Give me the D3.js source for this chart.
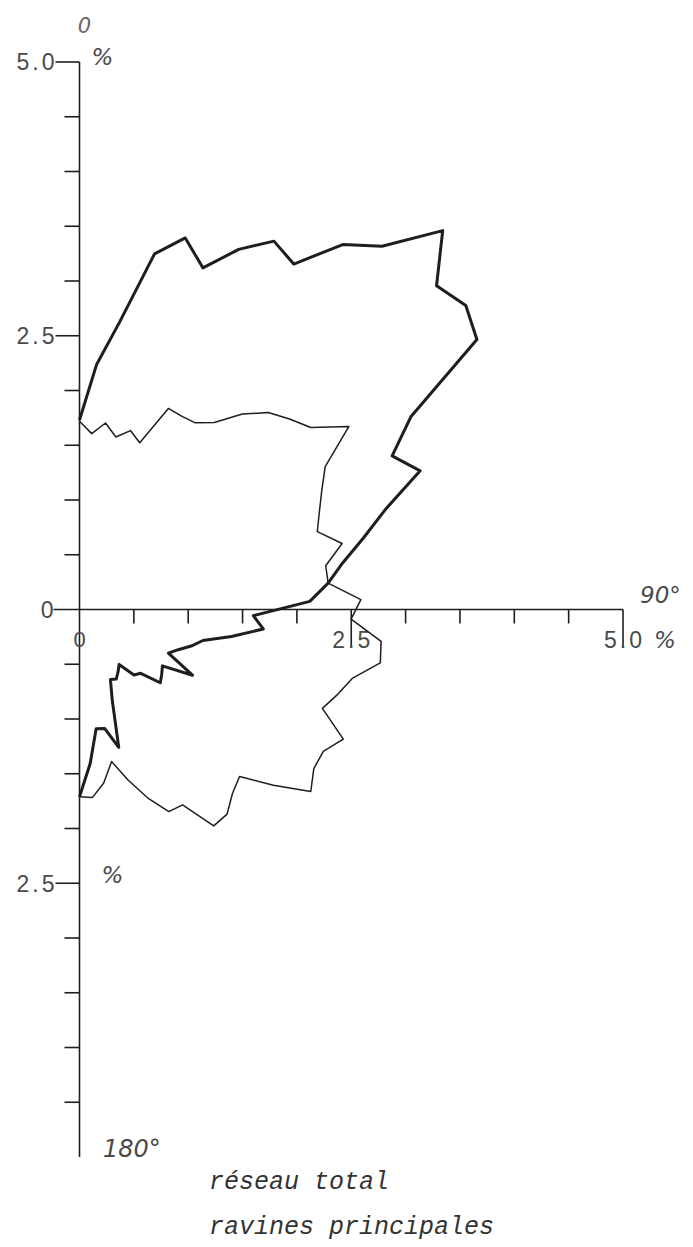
<!DOCTYPE html>
<html>
<head>
<meta charset="utf-8">
<script src="https://cdn.jsdelivr.net/npm/d3@7"></script>
<style>
  html, body { margin: 0; padding: 0; background: #fff; }
  svg { display: block; }
</style>
</head>
<body>
<div id="main_output"></div>
<script>
// direction classes (degrees from north) and frequencies (%)
var angles = [0, 4, 8, 12, 16, 20, 24, 28, 32, 36, 40, 44, 48, 52, 56, 60, 64, 68, 72, 76, 80, 84, 88,
              92, 96, 100, 104, 108, 112, 116, 120, 124, 128, 132, 136, 140, 144, 148, 152, 156, 160,
              164, 168, 172, 176, 180];

// réseau total (thick line)
var reseauTotal = [1.73, 2.24, 2.65, 3.32, 3.53, 3.32, 3.60, 3.81, 3.72, 4.12, 4.33, 4.81, 4.42, 4.51,
                   4.41, 3.52, 3.20, 3.38, 2.96, 2.69, 2.46, 2.30, 2.12, 1.60, 1.70, 1.42, 1.17, 1.08,
                   0.98, 0.91, 1.20, 0.92, 0.96, 1.00, 0.81, 0.78, 0.62, 0.67, 0.72, 0.70, 0.88, 1.31,
                   1.11, 1.10, 1.41, 1.71];

// ravines principales (thin line)
var ravinesPrincipales = [1.72, 1.61, 1.72, 1.61, 1.70, 1.62, 2.01, 2.00, 2.01, 2.11, 2.33, 2.50, 2.60,
                          2.70, 2.99, 2.61, 2.48, 2.38, 2.30, 2.49, 2.30, 2.30, 2.59, 2.50, 2.79, 2.81,
                          2.59, 2.50, 2.41, 2.70, 2.59, 2.60, 2.70, 2.40, 2.12, 2.19, 2.31, 2.33, 2.02,
                          2.02, 1.83, 1.62, 1.42, 1.60, 1.72, 1.71];

// axis ticks
var yTicks = [-4.5, -4, -3.5, -3, -2.5, -2, -1.5, -1, -0.5, 0.5, 1, 1.5, 2, 2.5, 3, 3.5, 4, 4.5, 5];
var yLabelValues = [5, 2.5, 0, -2.5];
var yLabels = ["5.0", "2.5", "0", "2.5"];
var xTicks = [0.5, 1, 1.5, 2, 2.5, 3, 3.5, 4, 4.5, 5];
var xLabelValues = [2.5, 5];
var xLabels = ["2.5", "5.0"];

var width = 693;
var height = 1247;

var xScale = d3.scaleLinear().domain([0, 5]).range([79.5, 623]);
var yScale = d3.scaleLinear().domain([-5, 5]).range([1157, 62]);

var ink = "#1e1e1e";
var textInk = "#4a4a4a";

var svg = d3.select("#main_output")
  .append("svg")
  .attr("width", width)
  .attr("height", height);

// ---------------- axes ----------------

// vertical axis
svg.append("line")
  .attr("x1", xScale(0)).attr("x2", xScale(0))
  .attr("y1", yScale(5)).attr("y2", yScale(-5))
  .attr("stroke", ink).attr("stroke-width", 1.6);

// horizontal axis (runs a bit left of the origin for the "0" label)
svg.append("line")
  .attr("x1", xScale(0) - 26).attr("x2", xScale(5))
  .attr("y1", yScale(0)).attr("y2", yScale(0))
  .attr("stroke", ink).attr("stroke-width", 1.6);

svg.selectAll(".ytick")
  .data(yTicks)
  .enter().append("line")
  .attr("class", "ytick")
  .attr("x1", function(d) { return xScale(0) - (yLabelValues.indexOf(d) >= 0 ? 24 : 15); })
  .attr("x2", xScale(0))
  .attr("y1", function(d) { return yScale(d); })
  .attr("y2", function(d) { return yScale(d); })
  .attr("stroke", ink).attr("stroke-width", 1.6);

svg.selectAll(".xtick")
  .data(xTicks)
  .enter().append("line")
  .attr("class", "xtick")
  .attr("x1", function(d) { return xScale(d); })
  .attr("x2", function(d) { return xScale(d); })
  .attr("y1", yScale(0))
  .attr("y2", function(d) { return yScale(0) + (xLabelValues.indexOf(d) >= 0 ? 38 : 14); })
  .attr("stroke", ink).attr("stroke-width", 1.6);

// tick labels
svg.selectAll(".ylabel")
  .data(yLabels)
  .enter().append("text")
  .attr("class", "ylabel")
  .attr("x", function(d, i) { return yLabelValues[i] === 0 ? xScale(0) - 26 : xScale(0) - 22; })
  .attr("y", function(d, i) { return yScale(yLabelValues[i]); })
  .attr("dy", "0.36em")
  .attr("text-anchor", "end")
  .attr("font-family", "Liberation Sans, Arial, sans-serif")
  .attr("font-size", "23px")
  .attr("letter-spacing", function(d) { return d.length > 1 ? "3px" : "0px"; })
  .attr("fill", textInk)
  .text(function(d) { return d; });

svg.selectAll(".xlabel")
  .data(xLabels)
  .enter().append("text")
  .attr("class", "xlabel")
  .attr("x", function(d, i) { return xScale(xLabelValues[i]) + 1.5; })
  .attr("y", yScale(0) + 38)
  .attr("text-anchor", "middle")
  .attr("font-family", "Liberation Sans, Arial, sans-serif")
  .attr("font-size", "23px")
  .attr("letter-spacing", "3px")
  .attr("fill", textInk)
  .text(function(d) { return d; });

// origin "0" under the horizontal axis
svg.append("text")
  .attr("x", xScale(0))
  .attr("y", yScale(0) + 37)
  .attr("text-anchor", "middle")
  .attr("font-family", "Liberation Sans, Arial, sans-serif")
  .attr("font-size", "22px")
  .attr("fill", textInk)
  .text("0");

// units and directions
var italic = "DejaVu Sans, sans-serif";

svg.append("text")
  .attr("x", xScale(0) + 5).attr("y", 33)
  .attr("text-anchor", "middle")
  .attr("font-family", italic).attr("font-style", "italic")
  .attr("font-size", "21px").attr("fill", "#666")
  .text("0");

svg.append("text")
  .attr("x", xScale(0) + 12).attr("y", 65)
  .attr("font-family", italic).attr("font-style", "italic")
  .attr("font-size", "23px").attr("fill", textInk)
  .text("%");

svg.append("text")
  .attr("x", xScale(0) + 22).attr("y", 883)
  .attr("font-family", italic).attr("font-style", "italic")
  .attr("font-size", "23px").attr("fill", textInk)
  .text("%");

svg.append("text")
  .attr("x", xScale(5) + 31).attr("y", yScale(0) + 38)
  .attr("font-family", italic).attr("font-style", "italic")
  .attr("font-size", "23px").attr("fill", textInk)
  .text("%");

svg.append("text")
  .attr("x", 640).attr("y", 603)
  .attr("font-family", italic).attr("font-style", "italic")
  .attr("font-size", "23px").attr("fill", textInk)
  .text("90°");

svg.append("text")
  .attr("x", 103).attr("y", 1157)
  .attr("font-family", italic).attr("font-style", "italic")
  .attr("font-size", "24px").attr("fill", textInk)
  .text("180°");

// ---------------- rose lines ----------------

function toPoints(values) {
  return values.map(function(r, i) {
    var a = angles[i] * Math.PI / 180;
    return { x: r * Math.sin(a), y: r * Math.cos(a) };
  });
}

var rose = d3.line()
  .x(function(d) { return xScale(d.x); })
  .y(function(d) { return yScale(d.y); });

svg.append("path")
  .datum(toPoints(ravinesPrincipales))
  .attr("class", "ravines-line")
  .attr("fill", "none")
  .attr("stroke", ink)
  .attr("stroke-width", 1.5)
  .attr("stroke-linejoin", "round")
  .attr("d", rose);

svg.append("path")
  .datum(toPoints(reseauTotal))
  .attr("class", "reseau-line")
  .attr("fill", "none")
  .attr("stroke", ink)
  .attr("stroke-width", 3)
  .attr("stroke-linejoin", "round")
  .attr("d", rose);

// ---------------- legend ----------------
svg.append("text")
  .attr("x", 209).attr("y", 1189)
  .attr("font-family", "Liberation Mono, monospace").attr("font-style", "italic")
  .attr("font-size", "25px").attr("fill", "#333")
  .text("réseau total");

svg.append("text")
  .attr("x", 209).attr("y", 1234)
  .attr("font-family", "Liberation Mono, monospace").attr("font-style", "italic")
  .attr("font-size", "25px").attr("fill", "#333")
  .text("ravines principales");
</script>
</body>
</html>
